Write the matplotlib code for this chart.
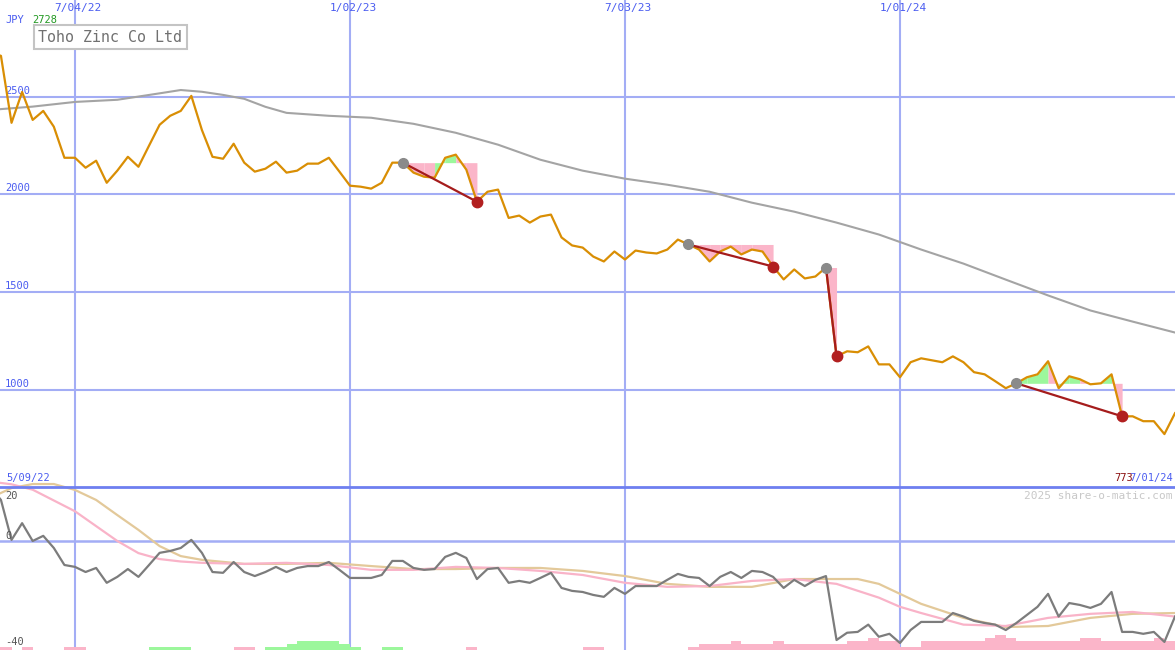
"""Toho Zinc Co Ltd weekly price chart with momentum panel."""
import matplotlib
matplotlib.use("Agg")
import matplotlib.pyplot as plt

W, H = 1175, 650

# weekly closes, week 0 = 5/09/22
price = [2728, 2710, 2367, 2525, 2382, 2428, 2347, 2188, 2188, 2137,
         2173, 2060, 2122, 2193, 2142, 2250, 2357, 2403, 2428, 2505,
         2330, 2193, 2183, 2260, 2163, 2117, 2132, 2168, 2112, 2122,
         2158, 2158, 2188, 2117, 2045, 2040, 2030, 2060, 2163, 2163,
         2112, 2091, 2086, 2188, 2204, 2127, 1963, 2014, 2025, 1880,
         1892, 1856, 1887, 1897, 1780, 1739, 1728, 1682, 1657, 1708,
         1667, 1713, 1703, 1698, 1718, 1769, 1744, 1718, 1657, 1708,
         1733, 1693, 1718, 1708, 1631, 1565, 1616, 1570, 1580, 1626,
         1171, 1197, 1192, 1222, 1130, 1130, 1064, 1141, 1161, 1151,
         1141, 1171, 1141, 1090, 1079, 1044, 1008, 1033, 1064, 1079,
         1146, 1008, 1069, 1054, 1028, 1033, 1079, 864, 864, 839,
         839, 773, 880]

# long moving average (grey line, top panel)
ma_weeks = [0, 4, 8, 12, 16, 18, 20, 22, 24, 26, 28, 32, 36, 40, 44, 48,
            52, 56, 60, 64, 68, 72, 76, 80, 84, 88, 92, 96, 100, 104, 108, 112]
ma_price = [2433, 2450, 2474, 2485, 2518, 2535, 2526, 2510, 2490, 2449, 2418,
            2403, 2393, 2362, 2316, 2255, 2178, 2122, 2081, 2050, 2014, 1958,
            1912, 1856, 1795, 1718, 1646, 1564, 1483, 1406, 1349, 1293]

# momentum (% from average), lower panel
momentum = [20, 15.2, 0.4, 6.6, 0, 1.9, -2.6, -8.9, -9.6, -11.5,
            -10, -15.5, -13.3, -10.4, -13.3, -8.9, -4.4, -3.7, -2.6, 0.4,
            -4.4, -11.5, -11.8, -7.8, -11.5, -13, -11.5, -9.6, -11.5, -10,
            -9.3, -9.3, -7.8, -10.7, -13.7, -13.7, -13.7, -12.6, -7.4, -7.4,
            -10, -10.7, -10.4, -5.9, -4.4, -6.3, -14.1, -10.4, -10, -15.5,
            -14.8, -15.5, -13.7, -11.8, -17.4, -18.5, -18.9, -20, -20.7, -17.4,
            -19.6, -16.7, -16.7, -16.7, -14.4, -12.2, -13.3, -13.7, -16.7, -13.3,
            -11.5, -13.7, -11.1, -11.5, -13.3, -17.4, -14.4, -16.7, -14.4, -13,
            -36.7, -34, -33.7, -31, -35.5, -34.4, -37.8, -33, -30, -30,
            -30, -26.7, -28, -29.6, -30.4, -31, -33, -30.4, -27.4, -24.4,
            -19.6, -28, -23, -23.7, -24.8, -23.3, -18.9, -33.7, -33.7, -34.4,
            -33.7, -37.4, -28]

fast_weeks = [0, 2, 4, 6, 8, 10, 12, 14, 16, 18, 20, 24, 28, 32, 36, 40, 44,
              48, 52, 56, 60, 64, 68, 72, 76, 80, 84, 86, 88, 92, 96, 100,
              104, 108, 112]
fast_vals = [22, 21, 19, 15, 11, 5.5, 0, -4.5, -6.7, -7.6, -8.1, -8.5, -8.1,
             -8.9, -10.7, -10.7, -9.6, -10, -11.1, -12.6, -15.5, -17, -16.7,
             -14.8, -14.1, -15.9, -21, -24.4, -26.7, -31, -31.5, -28.5, -27,
             -26.3, -28]

slow_weeks = [0, 2, 4, 6, 8, 10, 12, 14, 16, 18, 20, 24, 28, 32, 36, 40, 44,
              48, 52, 56, 60, 64, 68, 72, 74, 76, 80, 82, 84, 88, 92, 96,
              100, 104, 108, 112]
slow_vals = [16, 19.6, 21.1, 21.1, 18.9, 15.2, 9.6, 4.1, -1.9, -5.6, -7, -8.5,
             -8.5, -8.1, -9.3, -10.4, -10.4, -10, -10, -11.1, -13, -15.9, -17,
             -17, -15.6, -14.1, -14.1, -14.1, -15.9, -23.3, -28.5, -31.9,
             -31.5, -28.5, -27, -26.7]

# weekly bar levels at the bottom (+ green, - pink)
bar_levels = [-1, -1, 0, -1, 0, 0, 0, -1, -1, 0,
              0, 0, 0, 0, 0, 1, 1, 1, 1, 0,
              0, 0, 0, -1, -1, 0, 1, 1, 2, 3,
              3, 3, 3, 2, 1, 0, 0, 1, 1, 0,
              0, 0, 0, 0, 0, -1, 0, 0, 0, 0,
              0, 0, 0, 0, 0, 0, -1, -1, 0, 0,
              0, 0, 0, 0, 0, 0, -1, -2, -2, -2,
              -3, -2, -2, -2, -3, -2, -2, -2, -2, -2,
              -2, -3, -3, -4, -3, -3, -1, -1, -3, -3,
              -3, -3, -3, -3, -4, -5, -4, -3, -3, -3,
              -3, -3, -3, -4, -4, -3, -3, -3, -3, -3,
              -4, -3, 0]

# (entry week, exit week)
signals = [(39, 46), (66, 74), (79, 80), (97, 107)]

grid_weeks = [8, 34, 60, 86]
grid_labels = ['7/04/22', '1/02/23', '7/03/23', '1/01/24']
price_ticks = [2500, 2000, 1500, 1000]

BLUE = '#4a5cf0'
GRID = '#a3adf5'
GOLD = '#d98e04'
PINK = '#fbb5c9'
GREEN = '#9cf79c'


def fx(x):
    return x / W


def fy(y):
    return 1 - y / H


def plot():
    fig = plt.figure(figsize=(W / 100, H / 100), dpi=100)
    fig.patch.set_facecolor('white')
    plt.rcParams['font.family'] = 'DejaVu Sans Mono'

    top = fig.add_axes([0, fy(487), 1, 487 / H])
    bot = fig.add_axes([0, 0, 1, fy(487)])
    weeks = list(range(len(price)))

    for ax in (top, bot):
        ax.set_axis_off()
        ax.set_xlim(0.91, 112)
        for g in grid_weeks:
            ax.axvline(g, color=GRID, lw=1.5, zorder=1)

    # top panel
    top.set_ylim(502, 2996)
    for t in price_ticks:
        top.axhline(t, color=GRID, lw=1.5, zorder=1)
        top.annotate(str(t), xy=(0, t), xycoords=('axes fraction', 'data'),
                     xytext=(5, 1), textcoords='offset pixels', va='bottom',
                     fontsize=7.5, color=BLUE)

    top.plot(ma_weeks, ma_price, color='#a4a4a4', lw=1.5, zorder=3)

    for a, b in signals:
        level = price[a]
        for i in range(a, b):
            c = GREEN if price[i + 1] > level else PINK
            top.fill_between([i, i + 1], price[i:i + 2], level, color=c,
                             lw=0, zorder=2)

    top.plot(weeks, price, color=GOLD, lw=1.6, zorder=4)

    for a, b in signals:
        top.plot([a, b], [price[a], price[b]], color='#a51c1c', lw=1.6, zorder=5)
        top.plot(a, price[a], 'o', color='#8a8a8a', ms=7, zorder=6)
        top.plot(b, price[b], 'o', color='#b22020', ms=7.5, zorder=6)

    # bottom panel
    bot.set_ylim(-40.4, 20)
    bot.axhline(0, color=GRID, lw=1.8, zorder=1)
    bot.axhline(20, color='#6e7ff0', lw=2, zorder=5, clip_on=False)
    unit = 1.1
    for w, lv in enumerate(bar_levels):
        if lv == 0:
            continue
        bot.bar(w, abs(lv) * unit, width=1, bottom=-40.4, align='edge',
                color=GREEN if lv > 0 else PINK, lw=0, zorder=2)
    bot.plot(slow_weeks, slow_vals, color='#e3c99a', lw=1.6, zorder=3,
             clip_on=False)
    bot.plot(fast_weeks, fast_vals, color='#f9b3c8', lw=1.6, zorder=3,
             clip_on=False)
    bot.plot(weeks, momentum, color='#7c7c7c', lw=1.6, zorder=4)

    # texts
    for g, lab in zip(grid_weeks, grid_labels):
        xp = (g - 0.91) / (112 - 0.91) * W
        fig.text(fx(xp + 3), fy(8), lab, ha='center', va='center',
                 fontsize=8, color=BLUE)
    fig.text(fx(5), fy(20), 'JPY', va='center', fontsize=7.5, color=BLUE)
    fig.text(fx(32), fy(20), '2728', va='center', fontsize=7.5, color='#229922')
    fig.text(fx(38), fy(37), 'Toho Zinc Co Ltd', va='center', fontsize=10.8,
             color='#707070',
             bbox=dict(boxstyle='square,pad=0.3', fc='white', ec='#c4c4c4', lw=1.5))

    fig.text(fx(6), fy(478), '5/09/22', va='center', fontsize=7.5, color=BLUE)
    fig.text(fx(1173), fy(478), '7/01/24', ha='right', va='center',
             fontsize=7.5, color=BLUE)
    fig.text(fx(1114), fy(478), '773', va='center', fontsize=7.5, color='#8b1010')
    fig.text(fx(1172), fy(496), '2025 share-o-matic.com', ha='right',
             va='center', fontsize=8, color='#c8c8c8')
    fig.text(fx(5), fy(496), '20', va='center', fontsize=7.5, color='#555555')
    fig.text(fx(5), fy(536), '0', va='center', fontsize=7.5, color='#555555')
    fig.text(fx(5), fy(642), '-40', va='center', fontsize=7.5, color='#555555')

    fig.savefig('out.png', dpi=100)


if __name__ == "__main__":
    plot()
